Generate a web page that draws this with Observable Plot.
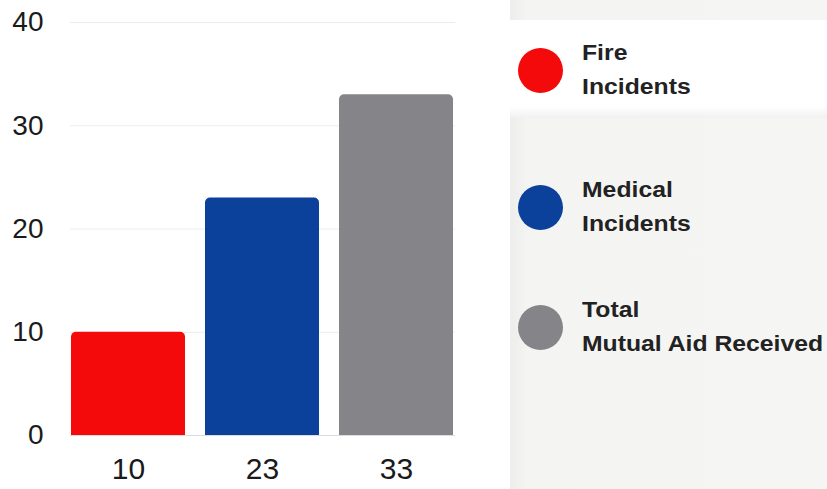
<!DOCTYPE html>
<html>
<head>
<meta charset="utf-8">
<script src="https://cdn.jsdelivr.net/npm/d3@7"></script>
<script src="https://cdn.jsdelivr.net/npm/@observablehq/plot@0.6"></script>
<style>
  html, body { margin: 0; padding: 0; background: #fff; }
  #wrap { position: relative; width: 827px; height: 489px; overflow: hidden; font-family: "Liberation Sans", Arial, sans-serif; }
  #panel { position: absolute; left: 510px; top: 0; width: 317px; height: 489px;
    background: linear-gradient(to right, #ededec 0px, #f4f4f3 18px, #f5f5f4 100%); }
  #band { position: absolute; left: 510px; top: 20px; width: 317px; height: 98px;
    background: linear-gradient(to bottom, #ffffff 0%, #ffffff 88%, #f1f1f1 100%); }
  #chart { position: absolute; left: 0; top: 0; }
  .leg { position: absolute; left: 518px; display: flex; align-items: center; }
  .dot { width: 45px; height: 45px; border-radius: 50%; margin-right: 19px; flex: none; }
  .lab { font-weight: bold; font-size: 22.5px; line-height: 34px; color: #222; white-space: nowrap;
    transform: scaleX(1.1); transform-origin: left center; }
</style>
</head>
<body>
<div id="wrap">
  <div id="panel"></div>
  <div id="band"></div>
  <div id="chart"></div>
  <div id="legend"></div>
</div>
<script>
const categories = ["Fire Incidents", "Medical Incidents", "Total Mutual Aid Received"];
const values = [10, 23, 33];
const colors = ["#f40a0a", "#0b409b", "#858489"];
const legendLines = [["Fire", "Incidents"], ["Medical", "Incidents"], ["Total", "Mutual Aid Received"]];
const yTicks = [0, 10, 20, 30, 40];

const data = categories.map((c, i) => ({category: c, value: values[i], color: colors[i]}));

const chart = Plot.plot({
  width: 827,
  height: 489,
  marginLeft: 70,
  marginRight: 372,
  marginTop: 22,
  marginBottom: 54,
  style: {fontFamily: "'Liberation Sans', Arial, sans-serif", fontSize: "28px", color: "#222", background: "transparent"},
  x: {domain: categories, paddingInner: 0.148, paddingOuter: 0, label: null},
  y: {domain: [0, 40], label: null},
  marks: [
    Plot.gridY(yTicks, {stroke: "#ececec", strokeOpacity: 1, strokeWidth: 1}),
    Plot.barY(data, {x: "category", y: "value", fill: "color", rx: 5}),
    Plot.rectY(data, {x: "category", y1: 0, y2: d => Math.min(1, d.value), fill: "color"}),
    Plot.ruleY([0], {stroke: "#dcdcdc"}),
    Plot.axisY(yTicks, {tickSize: 0, tickPadding: 27, fontSize: 28, fill: "#1a1a1a"}),
    Plot.axisX({tickSize: 0, tickPadding: 22, fontSize: 30, fill: "#1a1a1a", tickFormat: c => String(values[categories.indexOf(c)])})
  ]
});
document.getElementById("chart").appendChild(chart);

const centers = [70, 207, 327];
const legend = document.getElementById("legend");
categories.forEach((c, i) => {
  const row = document.createElement("div");
  row.className = "leg";
  row.style.top = (centers[i] - 34) + "px";
  row.style.height = "68px";
  const dot = document.createElement("div");
  dot.className = "dot";
  dot.style.background = colors[i];
  const lab = document.createElement("div");
  lab.className = "lab";
  lab.innerHTML = legendLines[i].join("<br>");
  row.appendChild(dot);
  row.appendChild(lab);
  legend.appendChild(row);
});
</script>
</body>
</html>
